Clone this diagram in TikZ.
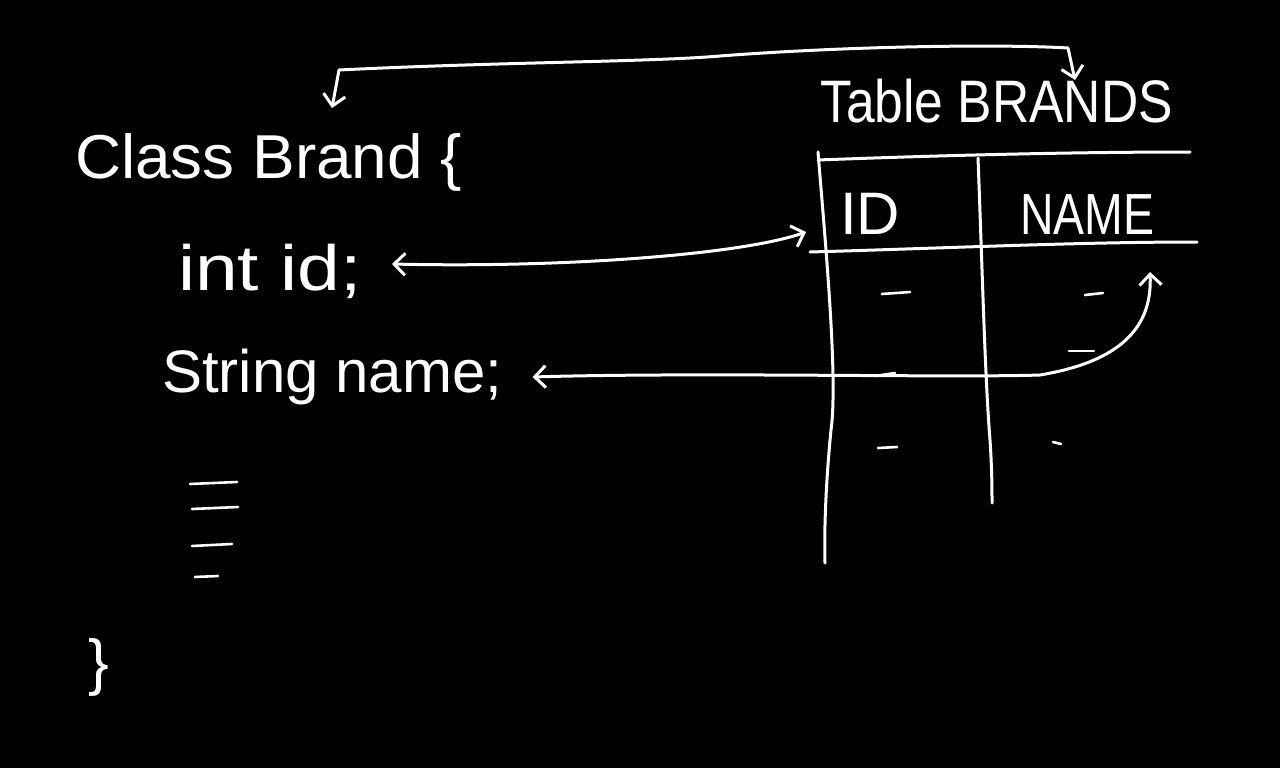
\documentclass[tikz,border=0pt]{standalone}
\usepackage{fontspec}
\setmainfont{Liberation Sans}
\usetikzlibrary{arrows.meta}
\begin{document}
\begin{tikzpicture}[x=1pt,y=-1pt,
  chalk/.style={draw=white,line width=3pt,line cap=round,line join=round},
  hand/.style={text=white,inner sep=0pt,anchor=base west},
  link/.style={chalk,{Straight Barb[length=11pt,width=22pt,line width=3pt]}-{Straight Barb[length=11pt,width=22pt,line width=3pt]}},
  tick/.style={chalk,line width=2.6pt}]
\fill[black] (0,0) rectangle (1280,768);
\useasboundingbox (0,0) rectangle (1280,768);

% class side
\node[hand,font=\fontsize{62}{70}\selectfont,xscale=1.03] (cls) at (75,178) {Class Brand \{};
\node[hand,font=\fontsize{64}{70}\selectfont,xscale=1.2] (intid) at (178,290) {int id;};
\node[hand,font=\fontsize{60}{70}\selectfont] (strname) at (162,392) {String name;};
\node[hand,font=\fontsize{62}{70}\selectfont] (rbrace) at (88,683) {\}};
\draw[tick] (190,484) -- (237,482);
\draw[tick] (192,509) -- (238,507);
\draw[tick] (192,546) -- (232,544);
\draw[tick] (195,577) -- (218,576);

% table side
\node[hand,font=\fontsize{60}{70}\selectfont,xscale=0.86] (tbltitle) at (820,122) {Table BRANDS};
\node[hand,font=\fontsize{60}{70}\selectfont] (hid) at (840,234) {ID};
\node[hand,font=\fontsize{58}{70}\selectfont,xscale=0.8] (hname) at (1020,234) {NAME};
\draw[chalk] (818,160) .. controls (950,155) and (1080,152) .. (1190,152);
\draw[chalk] (810,252) .. controls (950,248) and (1080,242) .. (1197,242);
\draw[chalk] (818,152) .. controls (826,250) and (838,380) .. (831,430) .. controls (826,480) and (824,530) .. (825,563);
\draw[chalk] (978,158) .. controls (982,260) and (985,380) .. (990,440) .. controls (992,470) and (992,490) .. (992,503);
\draw[tick] (882,294) -- (910,292);
\draw[tick] (1085,295) -- (1103,293);
\draw[tick] (1069,351) -- (1094,351);
\draw[tick] (875,376) -- (895,373);
\draw[tick] (878,448) -- (897,447);
\draw[tick] (1053,442) -- (1061,444);

% connectors
\draw[link] ([xshift=-6pt,yshift=70pt]cls.base west -| 338,0) -- (339,70)
  .. controls (500,62) and (650,62) .. (720,56)
  .. controls (850,46) and (1000,44) .. (1068,48) -- ([xshift=255pt,yshift=42pt]tbltitle.base west);
\draw[link] ([xshift=30pt,yshift=26pt]intid.base east) .. controls (560,268) and (740,255) .. ([xshift=-34pt,yshift=2pt]hid.base west);
\draw[link] ([xshift=30pt,yshift=15pt]strname.base east) .. controls (700,372) and (950,378) .. (1040,375)
  .. controls (1130,360) and (1152,320) .. ([xshift=130pt,yshift=-38pt]hname.base west);
\end{tikzpicture}
\end{document}
